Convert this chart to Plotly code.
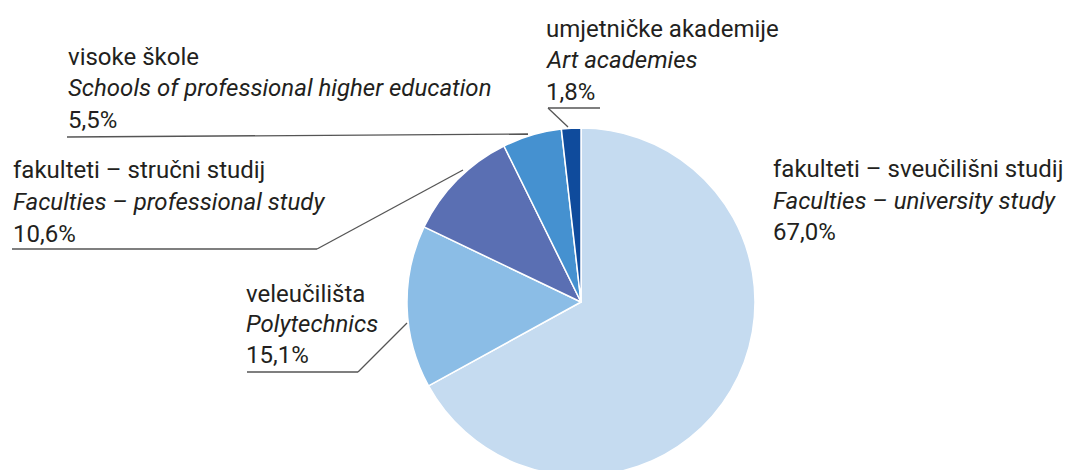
import plotly.graph_objects as go

# ---- data ----
labels_hr = ["fakulteti – sveučilišni studij", "veleučilišta", "fakulteti – stručni studij",
             "visoke škole", "umjetničke akademije"]
labels_en = ["Faculties – university study", "Polytechnics", "Faculties – professional study",
             "Schools of professional higher education", "Art academies"]
values = [67.0, 15.1, 10.6, 5.5, 1.8]
value_text = ["67,0%", "15,1%", "10,6%", "5,5%", "1,8%"]
colors = ["#C5DBF0", "#8BBDE6", "#5A6FB3", "#4591D0", "#0F4B9C"]

W, H = 1065, 478
FONT = "Roboto, sans-serif"
FS = 24
TXT = "#231F20"
LINE = "#555555"

def px(x):
    return x / W

def py(y):
    return 1 - y / H

fig = go.Figure(go.Pie(
    labels=labels_en, values=values, sort=False, direction="clockwise", rotation=0,
    marker=dict(colors=colors, line=dict(color="white", width=1.5)),
    textinfo="none", hoverinfo="skip", showlegend=False,
    domain=dict(x=[px(407), px(755)], y=[py(476), py(128)]),
))

# label blocks: (index, x-left, baselines of 3 lines)
blocks = [
    (0, 771, [177, 209, 240]),
    (1, 244, [302, 332, 363]),
    (2, 11, [178, 210, 242]),
    (3, 66, [65, 96, 128]),
    (4, 544, [37, 68, 100]),
]
anns = []
for i, x0, bls in blocks:
    lines = [labels_hr[i], "<i>" + labels_en[i] + "</i>", value_text[i]]
    for t, b in zip(lines, bls):
        anns.append(dict(text=t, x=px(x0), y=py(b - 8), xref="paper", yref="paper",
                         xanchor="left", yanchor="middle", showarrow=False,
                         font=dict(family=FONT, size=FS, color=TXT)))

# leader lines (label furniture)
leaders = [
    [(548, 108), (600, 108)], [(548, 108), (568, 127)],
    [(67, 137), (528, 134)],
    [(12, 249), (317, 249)], [(317, 249), (463, 170)],
    [(247, 372), (358, 372)], [(358, 372), (407, 323)],
]
shapes = []
for (x0, y0), (x1, y1) in leaders:
    shapes.append(dict(type="line", xref="paper", yref="paper",
                       x0=px(x0), y0=py(y0), x1=px(x1), y1=py(y1),
                       line=dict(color=LINE, width=1.3)))

fig.update_layout(width=W, height=H, margin=dict(l=0, r=0, t=0, b=0),
                  paper_bgcolor="white", plot_bgcolor="white",
                  annotations=anns, shapes=shapes)

fig.write_html("out.html", config={"displayModeBar": False}, post_script=(
    "document.body.style.margin='0';document.body.style.overflow='hidden';"
    "document.documentElement.style.overflow='hidden';"))
